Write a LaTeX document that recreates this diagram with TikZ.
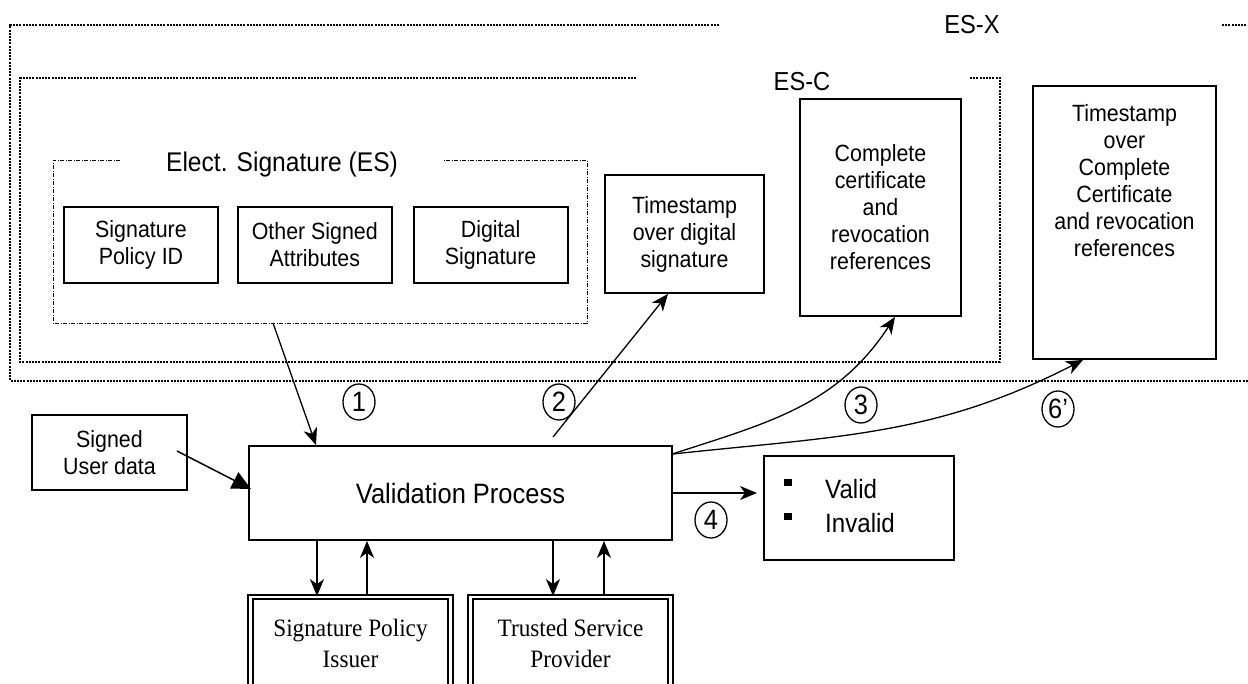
\documentclass[tikz,border=0pt]{standalone}
\usepackage{fontspec}
\setmainfont{Liberation Sans}[FakeStretch=0.91]
\newfontfamily\issuerfont{Liberation Serif}[FakeStretch=0.93]
\usetikzlibrary{arrows,arrows.meta,shapes,positioning,calc}
\tikzstyle{block} = [rectangle, draw, line width=1.8pt, align=center,
    inner sep=0pt, font=\fontsize{23.5}{27}\selectfont]
\tikzstyle{esbox} = [block, minimum width=154pt, minimum height=76pt]
\tikzstyle{party} = [rectangle, draw, double, line width=1.8pt, double distance=2.6pt,
    align=center, minimum width=200pt, minimum height=93pt,
    font=\issuerfont\fontsize{25}{31}\selectfont]
\tikzstyle{frame} = [line width=1.6pt, dash pattern=on 2pt off 1.2pt]
\tikzstyle{esframe} = [line width=0.9pt, dash pattern=on 4pt off 1.5pt on 1pt off 1.5pt]
\tikzstyle{title} = [anchor=base, inner sep=0pt, font=\fontsize{26}{30}\selectfont]
\tikzstyle{num} = [ellipse, draw, line width=1.3pt, inner sep=0pt, minimum width=32pt,
    minimum height=36pt, font=\fontsize{28}{28}\selectfont]
\tikzstyle{flow} = [->, line width=1.3pt]

\begin{document}
\begin{tikzpicture}[x=1pt,y=-1pt,>={Stealth[length=17pt,width=14pt,inset=5pt]}]
  \useasboundingbox (0,0) rectangle (1248,683);
  \clip (0,0) rectangle (1248,683);

  % ES-X and ES-C
  \draw[frame] (719,25) -- (10,25) -- (10,381) -- (1260,381);
  \draw[frame] (1222,25) -- (1260,25);
  \node[title] (esx) at (972,33) {ES-X};
  \draw[frame] (636,78) -- (20,78) -- (20,362) -- (1000,362) -- (1000,78) -- (969,78);
  \node[title] (esc) at (802,90) {ES-C};

  % electronic signature
  \node[inner sep=0pt, outer sep=0pt, minimum width=534pt, minimum height=163pt] (es) at (320,241.5) {};
  \draw[esframe] ($(es.north west)+(67,0)$) -| (es.south west) -| (es.north east) -- ++(-145,0);
  \node[title, font=\fontsize{27}{30}\selectfont] (estitle) at (282,171) {Elect. Signature (ES)};

  \node[esbox]  (sigpol) at (141,245)         {Signature\\Policy ID};
  \node[esbox]  (other)  [right=18pt of sigpol] {Other Signed\\Attributes};
  \node[esbox]  (digsig) [right=20pt of other]  {Digital\\Signature};

  \node[block, minimum width=159pt, minimum height=118pt] (tsdig) at (684.5,234)
      {Timestamp\\over digital\\signature};
  \node[block, minimum width=161pt, minimum height=217pt] (complete) at (880.5,207.5)
      {Complete\\certificate\\and\\revocation\\references};
  \node[block, minimum width=183pt, text height=35pt, text depth=238pt] (tscomp) at (1124.5,222.5)
      {\begin{tabular}[t]{@{}c@{}}Timestamp\\over\\Complete\\Certificate\\and revocation\\references\end{tabular}};

  \node[block, minimum width=155pt, minimum height=75pt] (signed) at (109.5,452.5) {Signed\\User data};
  \node[block, minimum width=423pt, minimum height=94pt, font=\fontsize{28}{32}\selectfont] (val) at (460.5,493)
      {Validation Process};
  \node[block, line width=2.4pt, anchor=north west, text width=150pt, inner xsep=20pt,
        minimum height=104pt, align=left, font=\fontsize{26.5}{34}\selectfont] (valid) at (763,455)
      {\begin{tabular}{@{}l@{\hspace{33pt}}l@{}}\rule[12pt]{8pt}{7pt} & Valid\\ \rule[12pt]{8pt}{7pt} & Invalid\end{tabular}};

  \node[party] (issuer) at (350.5,643.5) {Signature Policy\\Issuer};
  \node[party] (tsp)    at (570.5,643.5) {Trusted Service\\Provider};

  % step numbers
  \node[num] (c1) at (359,402)  {1};
  \node[num] (c2) at (559,402)  {2};
  \node[num] (c3) at (861,405)  {3};
  \node[num] (c4) at (711,520)  {4};
  \node[num] (c6) at (1058,409) {6’};

  \coordinate (a2s) at (553,437);
  \path[flow] ($(es.south)+(-47,0)$) edge ($(val.north)+(-144.5,0)$)
        (a2s) edge ($(tsdig.south)+(-16.5,0)$)
        (val.east) edge[line width=1.6pt, shorten >=6pt] (val.east -| valid.west);
  \draw[line width=1.5pt, -{Triangle[length=19pt,width=18pt]}]
      ($(signed.center)+(67.5,-1.5)$) -- ($(val.west)+(3,-4)$);
  \draw[flow] ($(val.north east)+(-1,9)$) .. controls (771,422) and (837,405) .. ($(complete.south)+(14.5,0)$);
  \draw[flow] ($(val.north east)+(-1,9)$) .. controls (839,436) and (935,436) .. ($(tscomp.south)+(-41.5,0)$);

  \foreach \party/\down/\up in {issuer/-33.5/16.5, tsp/-17.5/33.5} {
    \coordinate (d) at ($(\party.north)+(\down,0)$);
    \coordinate (u) at ($(\party.north)+(\up,0)$);
    \draw[flow] (d |- val.south) -- (d);
    \draw[flow] (u) -- (u |- val.south);
  }
\end{tikzpicture}
\end{document}
